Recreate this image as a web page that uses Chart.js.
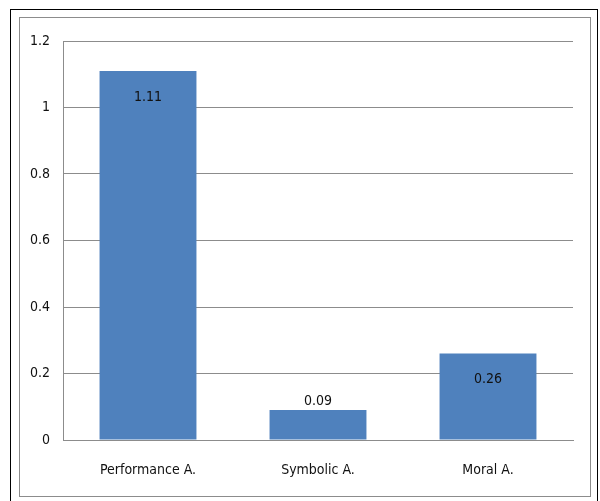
<!DOCTYPE html>
<html>
<head>
<meta charset="utf-8">
<script src="https://cdn.jsdelivr.net/npm/chart.js@4"></script>
<style>
  html, body { margin: 0; padding: 0; background: #fff; }
  #wrap { position: relative; width: 600px; height: 501px; }
</style>
</head>
<body>
<div id="wrap"><canvas id="chart" width="600" height="501"></canvas></div>
<script>
// Chart data
const categories = ['Performance A.', 'Symbolic A.', 'Moral A.'];
const values = [1.11, 0.09, 0.26];
const valueLabels = ['1.11', '0.09', '0.26'];
const yTicks = [0, 0.2, 0.4, 0.6, 0.8, 1, 1.2];

const fontFamily = "'Liberation Sans Narrow', 'DejaVu Sans Condensed', 'Liberation Sans', Arial, sans-serif";

// Frame around the whole chart (outer black, inner gray)
const framePlugin = {
    id: 'frame',
    beforeDraw(chart) {
        const ctx = chart.ctx;
        ctx.save();
        ctx.fillStyle = '#fff';
        ctx.fillRect(0, 0, chart.width, chart.height);
        ctx.lineWidth = 1;
        ctx.strokeStyle = '#000';
        ctx.strokeRect(10.5, 9.5, 587, 500);
        ctx.strokeStyle = '#8c8c8c';
        ctx.strokeRect(19.5, 17.5, 571, 479);
        ctx.restore();
    }
};

// Value labels on bars
const valueLabelPlugin = {
    id: 'valueLabels',
    afterDatasetsDraw(chart) {
        const ctx = chart.ctx;
        const meta = chart.getDatasetMeta(0);
        ctx.save();
        ctx.font = '14px ' + fontFamily;
        ctx.fillStyle = '#111';
        ctx.textAlign = 'center';
        ctx.textBaseline = 'middle';
        meta.data.forEach((bar, i) => {
            const h = bar.base - bar.y;
            const y = h > 40 ? bar.y + 26 : bar.y - 9;
            ctx.fillText(valueLabels[i], bar.x, y);
        });
        ctx.restore();
    }
};

const ctx = document.getElementById('chart').getContext('2d');
new Chart(ctx, {
    type: 'bar',
    data: {
        labels: categories,
        datasets: [{
            data: values,
            backgroundColor: '#4F81BD',
            borderWidth: 0,
            barPercentage: 0.57,
            categoryPercentage: 1
        }]
    },
    options: {
        responsive: false,
        animation: false,
        layout: { padding: { top: 41, right: 27, bottom: 8, left: 0 } },
        plugins: {
            legend: { display: false },
            tooltip: { enabled: false }
        },
        scales: {
            x: {
                grid: { display: false, drawTicks: false },
                border: { color: '#8c8c8c', width: 1 },
                ticks: {
                    color: '#111',
                    font: { family: fontFamily, size: 14 },
                    padding: 22
                },
                afterFit(scale) { scale.height = 53; }
            },
            y: {
                min: 0,
                max: 1.2,
                afterBuildTicks(scale) {
                    scale.ticks = yTicks.map(v => ({ value: v }));
                },
                grid: { color: '#8c8c8c', drawTicks: false },
                border: { color: '#8c8c8c', width: 1 },
                ticks: {
                    color: '#111',
                    font: { family: fontFamily, size: 14 },
                    padding: 13,
                    callback: v => String(v)
                },
                afterFit(scale) { scale.width = 63; }
            }
        }
    },
    plugins: [framePlugin, valueLabelPlugin]
});
</script>
</body>
</html>
